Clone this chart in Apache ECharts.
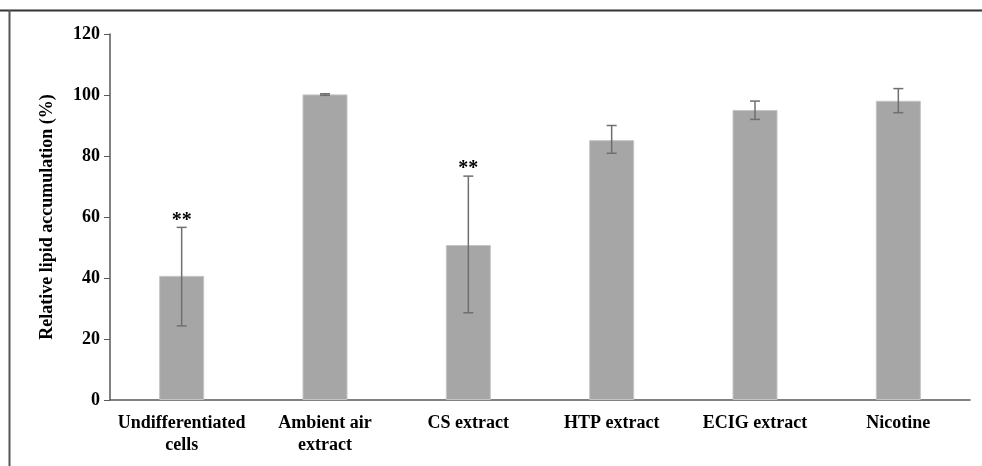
<!DOCTYPE html>
<html>
<head>
<meta charset="utf-8">
<script src="https://cdn.jsdelivr.net/npm/echarts@6/dist/echarts.min.js"></script>
<style>
  html, body { margin: 0; padding: 0; background: #fff; }
  #chart { width: 982px; height: 466px; }
</style>
</head>
<body>
<div id="chart"></div>
<script>
// categories and values
let categories = ["Undifferentiated\ncells", "Ambient air\nextract", "CS extract", "HTP extract", "ECIG extract", "Nicotine"];
let means = [40.7, 100.2, 50.8, 85.2, 95.1, 98.1];
let errLow = [24.3, 99.9, 28.6, 80.9, 92.0, 94.2];
let errHigh = [56.6, 100.4, 73.4, 90.0, 98.0, 102.1];
let signif = ["**", "", "**", "", "", ""];
let yTicks = [0, 20, 40, 60, 80, 100, 120];

let fontFam = '"Liberation Serif", "Times New Roman", serif';

function renderErrorBar(params, api) {
    let x = api.value(0);
    let lo = api.coord([x, api.value(1)]);
    let hi = api.coord([x, api.value(2)]);
    let half = 5;
    let style = { stroke: '#6f6f6f', lineWidth: 1.5 };
    let children = [
        { type: 'line', shape: { x1: hi[0], y1: hi[1], x2: lo[0], y2: lo[1] }, style: style },
        { type: 'line', shape: { x1: hi[0] - half, y1: hi[1], x2: hi[0] + half, y2: hi[1] }, style: style },
        { type: 'line', shape: { x1: lo[0] - half, y1: lo[1], x2: lo[0] + half, y2: lo[1] }, style: style }
    ];
    let mark = signif[params.dataIndex];
    if (mark) {
        children.push({
            type: 'text',
            style: {
                text: mark, x: hi[0], y: hi[1] + 3,
                align: 'center', verticalAlign: 'bottom',
                font: 'bold 20px ' + fontFam, fill: '#000'
            }
        });
    }
    return { type: 'group', children: children };
}

let errData = [];
for (let i = 0; i < categories.length; ++i)
    errData.push([i, errLow[i], errHigh[i]]);

let Chart = echarts.init(document.getElementById("chart"));
let option = {
    animation: false,
    backgroundColor: '#fff',
    grid: { left: 110, right: 12, top: 34, bottom: 66 },
    graphic: [
        { type: 'line', shape: { x1: 0, y1: 10.5, x2: 982, y2: 10.5 }, style: { stroke: '#333', lineWidth: 2 } },
        { type: 'line', shape: { x1: 9.5, y1: 10, x2: 9.5, y2: 466 }, style: { stroke: '#555', lineWidth: 2 } }
    ],
    xAxis: {
        type: 'category',
        data: categories,
        axisLine: { lineStyle: { color: '#595959', width: 1.5 } },
        axisTick: { show: false },
        axisLabel: {
            interval: 0, margin: 12, color: '#000',
            fontFamily: fontFam, fontWeight: 'bold', fontSize: 18, lineHeight: 22
        }
    },
    yAxis: {
        type: 'value',
        min: yTicks[0], max: yTicks[yTicks.length - 1], interval: 20,
        name: 'Relative lipid accumulation (%)',
        nameLocation: 'middle', nameGap: 54,
        nameTextStyle: { color: '#000', fontFamily: fontFam, fontWeight: 'bold', fontSize: 18 },
        splitLine: { show: false },
        axisLine: { show: true, lineStyle: { color: '#595959', width: 1.5 } },
        axisTick: { show: true, length: 6, lineStyle: { color: '#595959' } },
        axisLabel: { color: '#000', fontFamily: fontFam, fontWeight: 'bold', fontSize: 18, margin: 10 }
    },
    series: [{
        type: 'bar',
        data: means,
        barWidth: 45,
        itemStyle: { color: '#a6a6a6', borderColor: '#c4c4c4', borderWidth: 1 }
    }, {
        type: 'custom',
        renderItem: renderErrorBar,
        encode: { x: 0, y: [1, 2] },
        data: errData,
        z: 5
    }]
};
Chart.setOption(option);
</script>
</body>
</html>
